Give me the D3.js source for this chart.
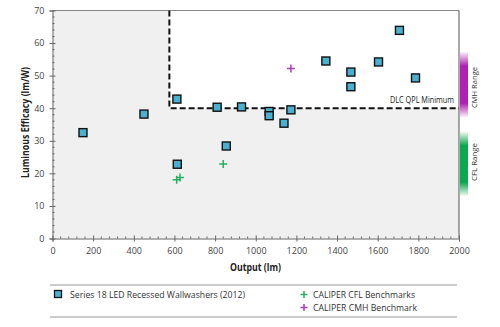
<!DOCTYPE html>
<html><head><meta charset="utf-8">
<script src="https://cdn.jsdelivr.net/npm/d3@7"></script>
<style>body{margin:0;background:#fff;} svg{display:block;font-family:"Open Sans",sans-serif;}</style>
</head><body>
<svg id="c" width="500" height="327"></svg>
<script>
const ledOutput   = [150, 450, 612, 614, 810, 855, 930, 1066, 1066, 1139, 1173, 1345, 1468, 1468, 1604, 1707, 1786];
const ledEfficacy = [32.5, 38.2, 42.8, 22.8, 40.3, 28.4, 40.4, 39.0, 37.7, 35.4, 39.5, 54.5, 51.1, 46.6, 54.2, 63.9, 49.3];
const cflOutput   = [611, 627, 840];
const cflEfficacy = [18.0, 18.7, 22.9];
const cmhOutput   = [1173];
const cmhEfficacy = [52.2];
const dlcMinOutput = 575, dlcMinEfficacy = 40;
const cmhRange = [37, 57.5];
const cflRange = [12.8, 33];
const xTicks = [0,200,400,600,800,1000,1200,1400,1600,1800,2000];
const yTicks = [0,10,20,30,40,50,60,70];
const legendLabels = ["Series 18 LED Recessed Wallwashers (2012)","CALIPER CFL Benchmarks","CALIPER CMH Benchmark"];

const svg = d3.select("#c");
const L=52.5, R=459, T=10.5, B=238.5;
const x = d3.scaleLinear().domain([0,2000]).range([L,R]);
const y = d3.scaleLinear().domain([0,70]).range([B,T]);

function txt(g, px, py, s, size, len, opts={}){
  const t = g.append("text").attr("font-size",size).attr("fill",opts.fill||"#333").text(s);
  if(opts.rotate){ t.attr("transform",`translate(${px},${py}) rotate(-90)`); }
  else { t.attr("x",px).attr("y",py); }
  if(opts.anchor) t.attr("text-anchor",opts.anchor);
  if(opts.bold) t.attr("font-weight","bold");
  if(len) t.attr("textLength",len).attr("lengthAdjust","spacingAndGlyphs");
  return t;
}

// background
svg.append("rect").attr("x",L).attr("y",T).attr("width",R-L).attr("height",B-T).attr("fill","#f0f0f0");
svg.append("rect").attr("x",x(dlcMinOutput)).attr("y",T).attr("width",R-x(dlcMinOutput)).attr("height",y(dlcMinEfficacy)-T).attr("fill","#ffffff");

// gradients for range bars
const defs = svg.append("defs");
function grad(id,color){
  const g = defs.append("linearGradient").attr("id",id).attr("x1",0).attr("x2",0).attr("y1",0).attr("y2",1);
  g.append("stop").attr("offset","0%").attr("stop-color",color).attr("stop-opacity",0);
  g.append("stop").attr("offset","22%").attr("stop-color",color).attr("stop-opacity",1);
  g.append("stop").attr("offset","78%").attr("stop-color",color).attr("stop-opacity",1);
  g.append("stop").attr("offset","100%").attr("stop-color",color).attr("stop-opacity",0);
}
grad("gCMH","#b21fb5"); grad("gCFL","#0aa84f");
svg.append("rect").attr("x",R+1).attr("y",y(cmhRange[1])).attr("width",8).attr("height",y(cmhRange[0])-y(cmhRange[1])).attr("fill","url(#gCMH)");
svg.append("rect").attr("x",R+1).attr("y",y(cflRange[1])).attr("width",8).attr("height",y(cflRange[0])-y(cflRange[1])).attr("fill","url(#gCFL)");
txt(svg,477,87.5,"CMH Range",8,41,{rotate:true,anchor:"middle"});
txt(svg,477,162,"CFL Range",8,38,{rotate:true,anchor:"middle"});

// borders
svg.append("line").attr("x1",L).attr("x2",R).attr("y1",T).attr("y2",T).attr("stroke","#888").attr("stroke-width",1.2);
svg.append("line").attr("x1",R).attr("x2",R).attr("y1",T).attr("y2",B).attr("stroke","#555").attr("stroke-width",1);

// axes
const xAxis = d3.axisBottom(x).tickValues(xTicks).tickFormat(d3.format("d")).tickSize(3).tickPadding(6);
const gx = svg.append("g").attr("transform",`translate(0,${B})`).call(xAxis);
const yAxis = d3.axisLeft(y).tickValues(yTicks).tickFormat(d3.format("d")).tickSize(3).tickPadding(5);
const gy = svg.append("g").attr("transform",`translate(${L},0)`).call(yAxis);
[gx,gy].forEach(g=>{
  g.select(".domain").attr("stroke","#666");
  g.selectAll(".tick line").attr("stroke","#666");
  g.selectAll("text").attr("font-size",9).attr("fill","#444").attr("font-family",'"Open Sans",sans-serif');
});
gx.selectAll(".tick line").attr("y1",-3);
gy.selectAll(".tick line").attr("x1",3);
// minor ticks
const xMinor = d3.range(0,2001,40).filter(v=>v%200!==0);
svg.append("g").selectAll("line").data(xMinor).join("line").attr("x1",d=>x(d)).attr("x2",d=>x(d)).attr("y1",B-2).attr("y2",B).attr("stroke","#666");
const yMinor = d3.range(0,70.1,2).filter(v=>v%10!==0);
svg.append("g").selectAll("line").data(yMinor).join("line").attr("x1",L).attr("x2",L+2).attr("y1",d=>y(d)).attr("y2",d=>y(d)).attr("stroke","#666");

// axis titles
txt(svg,255.5,271,"Output (lm)",10,51,{anchor:"middle",bold:true,fill:"#222"});
txt(svg,28.5,122.5,"Luminous Efficacy (lm/W)",10,111,{anchor:"middle",bold:true,fill:"#222",rotate:true});

// DLC dashed line
const dlc = d3.line().x(d=>x(d[0])).y(d=>y(d[1]));
svg.append("path").attr("d",dlc([[dlcMinOutput,70],[dlcMinOutput,dlcMinEfficacy],[2000,dlcMinEfficacy]]))
  .attr("fill","none").attr("stroke","#111").attr("stroke-width",2).attr("stroke-dasharray","6,3");
txt(svg,390,103,"DLC QPL Minimum",8.5,64,{fill:"#222"});

// LED squares
const led = ledOutput.map((v,i)=>[v,ledEfficacy[i]]);
svg.append("g").selectAll("rect").data(led).join("rect")
  .attr("x",d=>x(d[0])-4).attr("y",d=>y(d[1])-4).attr("width",8).attr("height",8)
  .attr("fill","#4bafd0").attr("stroke","#111").attr("stroke-width",1.4);

// plus markers
function plus(g, px, py, color, s){
  g.append("path").attr("d",`M${px-s},${py}H${px+s}M${px},${py-s}V${py+s}`).attr("stroke",color).attr("stroke-width",1.5).attr("fill","none");
}
const gp = svg.append("g");
cflOutput.forEach((v,i)=>plus(gp,x(v),y(cflEfficacy[i]),"#27ae60",4));
cmhOutput.forEach((v,i)=>plus(gp,x(v),y(cmhEfficacy[i]),"#a43fb0",4));

// legend
const lg = svg.append("g");
lg.append("line").attr("x1",50).attr("x2",457).attr("y1",285).attr("y2",285).attr("stroke","#999").attr("stroke-width",1.2);
lg.append("line").attr("x1",50).attr("x2",457).attr("y1",317).attr("y2",317).attr("stroke","#999").attr("stroke-width",1.2);
lg.append("rect").attr("x",54.5).attr("y",290.5).attr("width",7).attr("height",7).attr("fill","#4bafd0").attr("stroke","#111").attr("stroke-width",1.3);
txt(lg,70,298,legendLabels[0],9.5,175);
plus(lg,304,294.5,"#27ae60",3.5);
txt(lg,313,298,legendLabels[1],9.5,102);
plus(lg,304,307.5,"#a43fb0",3.5);
txt(lg,313,311,legendLabels[2],9.5,104);
</script>
</body></html>
